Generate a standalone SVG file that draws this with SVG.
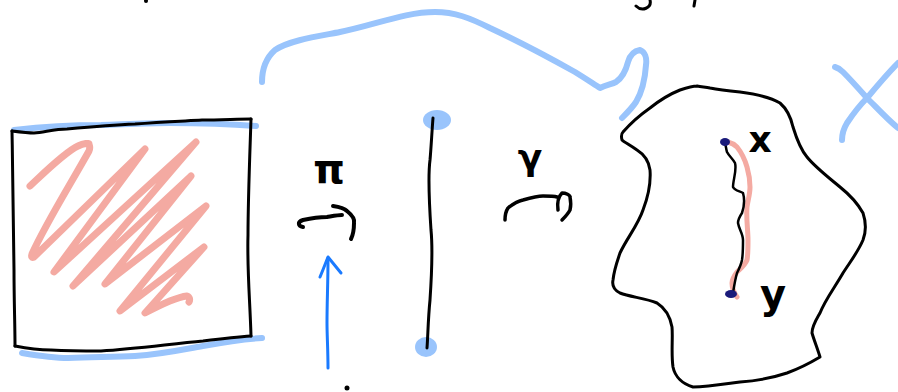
<svg xmlns="http://www.w3.org/2000/svg" width="898" height="392" viewBox="0 0 898 392">
<style>
.s{fill:none;stroke-linecap:round;stroke-linejoin:round}
.k{stroke:#000;stroke-width:3}
.lb{stroke:#99c4fc;stroke-width:6}
.pk{stroke:#f4aaa2;stroke-width:7}
.bb{stroke:#1a7aff;stroke-width:3}
.lbl{font-family:"DejaVu Sans",sans-serif;font-weight:bold;fill:#000}
</style>
<rect width="898" height="392" fill="#fff"/>
<g id="top-fragments">
<circle cx="146" cy="1" r="2" fill="#000"/>
<path class="s k" d="M650 0 C652 8 642 12 636 6"/>
<path class="s k" d="M695 0 L694 6"/>
</g>
<g id="square">
<path class="s lb" d="M14 130 C40 127 80 125 101 125 C130 124 150 123 169 123 C200 123 230 124 256 126"/>
<path class="s lb" d="M22 353 C40 356 55 358 68 358 C95 357 115 357 135 356 C165 354 185 349 203 346 C225 342 245 339 262 338"/>
<path class="s k" d="M12 131 C20 132 28 133 34 133 C45 132 55 129 67 129 C90 127 115 125 135 124 C160 122 185 121 202 120 C220 120 238 119 251 119"/>
<path class="s k" d="M251 119 C250 150 248 200 248 235 C247 270 250 300 251 336"/>
<path class="s k" d="M15 346 C25 348 38 350 51 350 C70 351 88 351 101 351 C135 349 170 344 203 341 C220 339 238 337 251 336"/>
<path class="s k" d="M12 131 C13 180 13 230 14 270 C14 300 15 325 15 346"/>
<path class="s pk" d="M30 186 C45 172 65 152 78 146 C84 143 89 143 89 144 C90 147 90 149 89 151 C70 185 45 225 32 254 C31 257 32 258 34 257 L145 149 L54 272 L196 142 L73 286 L191 176 L105 284 L206 206 L120 311 L204 247 L145 313 C160 305 178 297 187 296 C190 297 190 300 189 302"/>
</g>
<g id="pi-label">
<text class="lbl" x="329" y="183" font-size="40" text-anchor="middle">π</text>
</g>
<g id="pi-arrow">
<path class="s k" style="stroke-width:4" d="M303 227 C298 226 297 222 303 220 C312 218 322 217 327 217 C333 216 338 215 342 215"/>
<path class="s k" style="stroke-width:4" d="M333 206 C340 207 345 209 347 211 C352 215 355 219 354 223 C354 230 353 235 351 239"/>
</g>
<g id="interval">
<ellipse cx="437" cy="120" rx="14" ry="10" fill="#99c4fc"/>
<ellipse cx="426" cy="347" rx="11" ry="10" fill="#99c4fc"/>
<path class="s k" d="M433 118 C432 130 431 150 430 160 C428 175 429 200 431 230 C433 250 432 270 430 300 C428 320 428 335 427 348"/>
</g>
<g id="blue-arrow">
<path class="s bb" d="M328 368 C328 350 327 335 327 323 C327 300 328 285 328 258"/>
<path class="s bb" d="M320 277 C323 270 326 262 328 257 C332 262 337 268 341 273"/>
<circle cx="347" cy="388" r="2.5" fill="#000"/>
</g>
<g id="gamma-label">
<text class="lbl" x="530" y="170" font-size="36" text-anchor="middle">γ</text>
</g>
<g id="gamma-arrow">
<path class="s k" style="stroke-width:3.5" d="M505 220 C505 215 506 211 508 208 C513 204 518 201 523 200 C530 198 537 196 543 196 C549 196 554 196 557 197"/>
<path class="s k" style="stroke-width:3.5" d="M558 210 C557 203 558 197 562 193 C566 193 570 195 570 197 C571 202 571 206 570 210 C568 214 565 217 562 220"/>
</g>
<g id="space-X">
<path class="s k" d="M697 86 C702 87 706 87 710 88 C720 90 730 91 740 92 C755 94 770 97 780 103 C788 110 791 118 793 127 C797 140 801 150 807 157 C815 167 828 177 840 187 C850 195 858 204 863 213 C866 222 866 232 863 240 C858 252 850 262 843 273 C835 287 825 300 820 313 C816 320 812 326 812 333 C814 340 818 350 820 357 C810 363 798 369 787 373 C772 378 755 381 740 382 C725 384 708 387 693 387 C683 384 675 377 673 367 C671 353 673 338 672 327 C670 316 665 308 657 303 C645 298 630 297 620 293 C614 290 612 285 613 280 C614 270 617 262 620 253 C627 238 638 225 643 210 C648 197 651 183 650 170 C649 162 645 155 637 150 C630 145 624 142 622 140 C621 136 621 134 623 132 C630 124 640 115 650 108 C660 100 670 94 680 90 C686 88 692 86 697 86"/>
<path class="s pk" style="stroke-width:5" d="M728 142 C732 143 735 145 737 147 C741 152 745 160 747 167 C749 174 750 181 750 187 C750 194 748 200 747 207 C746 218 748 230 748 240 C748 248 748 255 747 260 C745 265 741 268 737 272 C734 276 732 279 732 283 C732 288 734 293 737 297"/>
<path class="s k" style="stroke-width:2.5" d="M725 143 C726 146 726 149 727 152 C729 156 733 159 735 163 C737 170 733 180 733 187 C735 191 740 191 743 193 C745 200 744 207 742 213 C740 216 738 219 738 223 C739 229 743 234 743 240 C743 247 743 254 742 260 C741 265 739 269 737 273 C735 280 734 287 733 293"/>
<ellipse cx="725" cy="142" rx="5" ry="4" fill="#1a1a7a"/>
<ellipse cx="731" cy="294" rx="6" ry="4" fill="#1a1a7a"/>
<text class="lbl" x="760" y="152" font-size="36" text-anchor="middle">x</text>
<text class="lbl" x="773" y="308" font-size="40" text-anchor="middle">y</text>
</g>
<g id="path-brace">
<path class="s lb" d="M262 82 C262 70 266 58 275 50 C290 40 320 36 340 32 C375 25 405 12 435 12 C455 12 470 18 490 28 C520 42 550 58 575 72 C588 80 595 85 600 88 C606 85 612 84 616 82 C622 78 626 70 628 62 C630 55 634 51 640 50 C645 52 647 58 646 65 C645 80 642 92 636 102 C632 108 627 113 622 118"/>
<path class="s lb" d="M835 67 C839 68 841 70 843 72 C851 80 859 89 867 98 C877 108 888 120 898 128"/>
<path class="s lb" d="M842 140 C842 134 844 128 847 123 C853 114 860 105 867 98 C877 86 888 73 898 63"/>
</g>
</svg>
